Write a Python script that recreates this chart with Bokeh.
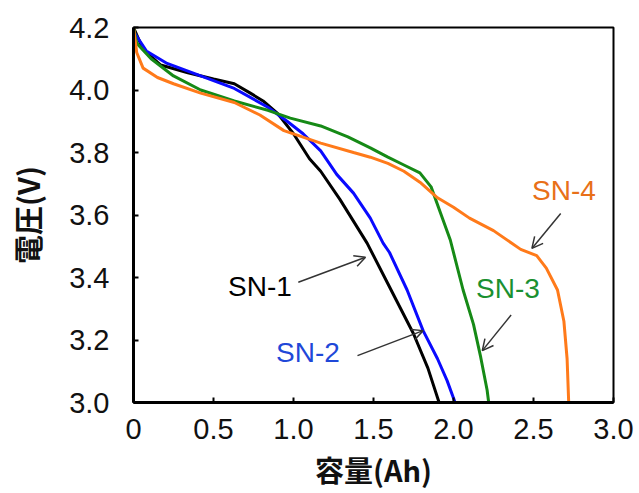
from bokeh.plotting import figure
from bokeh.models import Range1d, FixedTicker, Label, Arrow, OpenHead
from bokeh.embed import file_html
from bokeh.resources import INLINE

# --- data ---
sn1_x = [0, 0.06, 0.17, 0.34, 0.5, 0.63, 0.73, 0.81, 0.9, 1.0, 1.1, 1.17, 1.29, 1.46, 1.59, 1.67, 1.75, 1.84, 1.91]
sn1_y = [4.20, 4.13, 4.08, 4.055, 4.035, 4.02, 3.99, 3.965, 3.925, 3.86, 3.78, 3.74, 3.65, 3.51, 3.38, 3.30, 3.22, 3.11, 3.00]

sn2_x = [0, 0.01, 0.08, 0.21, 0.42, 0.63, 0.84, 0.96, 1.06, 1.17, 1.27, 1.375, 1.48, 1.56, 1.6, 1.71, 1.81, 1.9, 1.96, 2.01]
sn2_y = [4.19, 4.18, 4.125, 4.085, 4.045, 4.005, 3.945, 3.90, 3.86, 3.805, 3.73, 3.67, 3.59, 3.51, 3.48, 3.36, 3.23, 3.14, 3.07, 3.00]

sn3_x = [0, 0.02, 0.11, 0.25, 0.42, 0.63, 0.84, 0.98, 1.17, 1.34, 1.48, 1.59, 1.69, 1.79, 1.86, 1.92, 1.98, 2.06, 2.125, 2.17, 2.21, 2.22]
sn3_y = [4.20, 4.15, 4.10, 4.045, 4.00, 3.965, 3.935, 3.91, 3.885, 3.85, 3.815, 3.785, 3.76, 3.735, 3.69, 3.605, 3.52, 3.36, 3.25, 3.145, 3.04, 3.00]

sn4_x = [0, 0.02, 0.06, 0.15, 0.25, 0.42, 0.63, 0.79, 0.94, 1.17, 1.375, 1.48, 1.59, 1.69, 1.79, 1.9, 2.0, 2.1, 2.25, 2.42, 2.52, 2.58, 2.65, 2.69, 2.71, 2.72]
sn4_y = [4.20, 4.12, 4.07, 4.04, 4.02, 3.99, 3.96, 3.92, 3.87, 3.83, 3.80, 3.785, 3.765, 3.74, 3.705, 3.655, 3.625, 3.59, 3.55, 3.49, 3.47, 3.43, 3.36, 3.26, 3.14, 3.00]

x_ticks = [0, 0.5, 1.0, 1.5, 2.0, 2.5, 3.0]
x_tick_labels = ["0", "0.5", "1.0", "1.5", "2.0", "2.5", "3.0"]
y_ticks = [3.0, 3.2, 3.4, 3.6, 3.8, 4.0, 4.2]
y_tick_labels = ["3.0", "3.2", "3.4", "3.6", "3.8", "4.0", "4.2"]

series_names = ["SN-1", "SN-2", "SN-3", "SN-4"]
line_colors = ["#000000", "#0a0aff", "#168a16", "#ff7a1a"]
label_colors = ["#000000", "#1f48d8", "#1a9030", "#e87018"]
# annotation label positions (data units) and arrows (start -> end)
label_pos = [(0.79, 3.37), (1.09, 3.16), (2.34, 3.365), (2.69, 3.68)]
arrows = [((1.03, 3.385), (1.45, 3.465)),
          ((1.40, 3.15), (1.81, 3.23)),
          ((2.36, 3.28), (2.18, 3.166)),
          ((2.67, 3.605), (2.49, 3.493))]

p = figure(width=639, height=493, output_backend="svg", toolbar_location=None,
           x_range=Range1d(0, 3.0), y_range=Range1d(3.0, 4.2),
           min_border_left=133, min_border_right=26, min_border_top=27, min_border_bottom=91)
p.background_fill_color = "white"
p.border_fill_color = "white"
p.grid.visible = False
p.outline_line_color = "black"
p.outline_line_width = 2

for xs, ys, c in zip([sn1_x, sn2_x, sn3_x, sn4_x], [sn1_y, sn2_y, sn3_y, sn4_y], line_colors):
    p.line(xs, ys, line_color=c, line_width=3)

for ax in (p.xaxis[0], p.yaxis[0]):
    ax.axis_line_width = 3
    ax.axis_line_color = "black"
    ax.major_tick_in = 5
    ax.major_tick_out = 0
    ax.major_tick_line_width = 2
    ax.minor_tick_in = 0
    ax.minor_tick_out = 0
    ax.major_label_text_font = "Liberation Sans"
    ax.major_label_text_font_size = "29px"
    ax.major_label_text_color = "#111111"
    ax.axis_label_text_font = "Noto Sans CJK JP"
    ax.axis_label_text_font_style = "bold"
    ax.axis_label_text_font_size = "29px"
    ax.axis_label_text_color = "#111111"

p.xaxis[0].ticker = FixedTicker(ticks=x_ticks)
p.xaxis[0].major_label_overrides = {t: l for t, l in zip(x_ticks, x_tick_labels)}
p.yaxis[0].ticker = FixedTicker(ticks=y_ticks)
p.yaxis[0].major_label_overrides = {t: l for t, l in zip(y_ticks, y_tick_labels)}
p.xaxis[0].major_label_standoff = 16
p.yaxis[0].major_label_standoff = 24
p.xaxis[0].axis_label = "容量(Ah)"
p.yaxis[0].axis_label = "電圧(V)"
p.xaxis[0].axis_label_standoff = 6
p.yaxis[0].axis_label_standoff = 18

for name, (lx, ly), lc in zip(series_names, label_pos, label_colors):
    p.add_layout(Label(x=lx, y=ly, text=name, text_color=lc, text_font="Liberation Sans",
                       text_font_size="28px", text_align="center", text_baseline="middle"))

for (s, e) in arrows:
    p.add_layout(Arrow(x_start=s[0], y_start=s[1], x_end=e[0], y_end=e[1],
                       line_color="#333333", line_width=1.5,
                       end=OpenHead(size=11, line_color="#333333", line_width=1.5)))

open("out.html", "w").write(file_html(p, INLINE))
